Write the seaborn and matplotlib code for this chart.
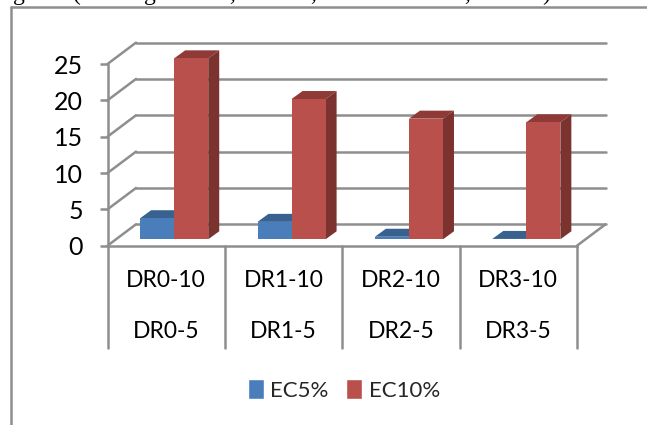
import matplotlib
matplotlib.use("Agg")
import matplotlib.pyplot as plt
from matplotlib.patches import Polygon
import pandas as pd
import seaborn as sns

sns.set_style("white")
plt.rcParams["font.family"] = ["Lato", "DejaVu Sans"]

# values
upper_labels = ["DR0-10", "DR1-10", "DR2-10", "DR3-10"]
lower_labels = ["DR0-5", "DR1-5", "DR2-5", "DR3-5"]
ec5 = [2.9, 2.4, 0.35, 0.05]
ec10 = [24.9, 19.3, 16.6, 16.1]
y_ticks = [0, 5, 10, 15, 20, 25]

# bits of the cut off caption line above the chart
caption_bits = ["g", "(", "g", ",", ",", ",", ")"]
caption_x = [19, 77, 150, 232, 313, 467, 546]

GRID = "#8e8e8e"
BLUE = "#4a7ebb"
RED = "#b9504b"
SHADES = {BLUE: ("#386190", "#2f5580"), RED: ("#8f3a36", "#7c3330")}

W, H = 647, 425
LEFT, RIGHT, BASE, TOP = 107.5, 577, 245.7, 64
LINE = 1.8

fig = plt.figure(figsize=(W / 100, H / 100), dpi=100)
ax = fig.add_axes([LEFT / W, 1 - BASE / H, (RIGHT - LEFT) / W, (BASE - TOP) / H])

# pixel sizes in data units
px_x = 4 / (RIGHT - LEFT)
px_y = 25 / (BASE - TOP)

df = pd.DataFrame({
    "group": upper_labels * 2,
    "series": ["EC5%"] * 4 + ["EC10%"] * 4,
    "value": ec5 + ec10,
})

sns.barplot(
    data=df, x="group", y="value", hue="series",
    palette=[BLUE, RED], width=0.58, gap=0, saturation=1, errorbar=None,
    ax=ax, zorder=5,
)

ax.set_xlim(-0.5, 3.5)
ax.set_ylim(0, 25)
ax.set_xlabel("")
ax.set_ylabel("")

# back wall and floor
wall_x = 28.5 * px_x
wall_y = 21.4 * px_y
for tick in y_ticks:
    ax.plot([-0.5 + wall_x, 3.5 + wall_x], [tick + wall_y, tick + wall_y],
            color=GRID, lw=LINE, clip_on=False, zorder=1)
    ax.plot([-0.5, -0.5 + wall_x], [tick, tick + wall_y],
            color=GRID, lw=LINE, clip_on=False, zorder=1)
ax.plot([3.5, 3.5 + wall_x], [0, wall_y], color=GRID, lw=LINE, clip_on=False, zorder=1)

# push bars onto the floor and add the top and side faces
bar_dx = 8 * px_x
bar_dy = 6.4 * px_y
depth_x = 11 * px_x
depth_y = 8 * px_y
for bar in ax.patches[:8]:
    bar.set_x(bar.get_x() + bar_dx)
    bar.set_y(bar.get_y() + bar_dy)
    bar.set_clip_on(False)
    bar.set_edgecolor("none")
    x0, x1 = bar.get_x(), bar.get_x() + bar.get_width()
    y0, y1 = bar.get_y(), bar.get_y() + bar.get_height()
    color = BLUE if abs(bar.get_facecolor()[2] - 0.73) < 0.05 else RED
    order = 3 if color == BLUE else 6
    bar.set_zorder(order + 1)
    top_shade, side_shade = SHADES[color]
    ax.add_patch(Polygon(
        [(x0, y1), (x1, y1), (x1 + depth_x, y1 + depth_y), (x0 + depth_x, y1 + depth_y)],
        facecolor=top_shade, edgecolor="none", clip_on=False, zorder=order))
    ax.add_patch(Polygon(
        [(x1, y0), (x1 + depth_x, y0 + depth_y), (x1 + depth_x, y1 + depth_y), (x1, y1)],
        facecolor=side_shade, edgecolor="none", clip_on=False, zorder=order))

# axis lines
for name in ["top", "right"]:
    ax.spines[name].set_visible(False)
for name in ["left", "bottom"]:
    ax.spines[name].set_color(GRID)
    ax.spines[name].set_linewidth(LINE)
ax.set_yticks(y_ticks)
ax.tick_params(axis="y", length=5.5, width=LINE, color=GRID, left=True,
               labelsize=18, pad=12, labelcolor="black")

# two level category table below the floor
ax.set_xticks([])
for i in range(5):
    ax.plot([i - 0.5, i - 0.5], [0, -102 * px_y], color=GRID, lw=LINE,
            clip_on=False, zorder=1)
for i in range(4):
    ax.text(i, -34.5 * px_y, upper_labels[i], ha="center", va="center",
            fontsize=16.5, color="black")
    ax.text(i, -86 * px_y, lower_labels[i], ha="center", va="center",
            fontsize=16.5, color="black")

sns.move_legend(
    ax, "center", bbox_to_anchor=(344 / W, 1 - 390 / H),
    bbox_transform=fig.transFigure, ncol=2, frameon=False, title=None,
    fontsize=16, handlelength=0.72, handleheight=1.0, handletextpad=0.3,
    columnspacing=0.8,
)

# outer frame of the scanned page
fig.add_artist(plt.Line2D([11 / W, 11 / W], [0, 1 - 7 / H], color=GRID, lw=LINE))
fig.add_artist(plt.Line2D([11 / W, 1], [1 - 7 / H, 1 - 7 / H], color=GRID, lw=LINE))

# caption sits on the top edge, only its descenders stay on the canvas
for bit, x in zip(caption_bits, caption_x):
    fig.text(x / W, 1.0, bit, ha="center", va="baseline", fontsize=17,
             family="Liberation Serif", color="black")

fig.savefig("out.png", dpi=100)
plt.close(fig)
